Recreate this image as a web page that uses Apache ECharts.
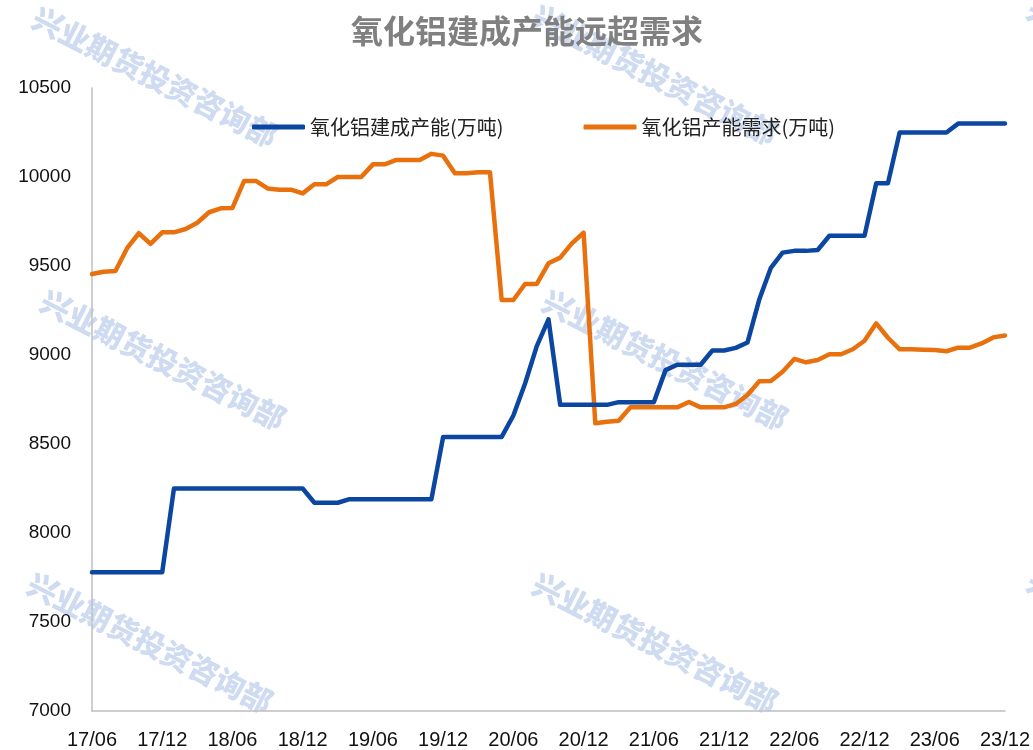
<!DOCTYPE html>
<html lang="zh">
<head>
    <meta charset="UTF-8">
    <title>氧化铝建成产能远超需求</title>
    <script src="https://cdn.jsdelivr.net/npm/echarts@6/dist/echarts.min.js"></script>
    <style>
        html, body { margin: 0; padding: 0; background: #fff; }
        #main { width: 1033px; height: 750px; }
    </style>
</head>
<body>
<div id="main"></div>
<script type="text/javascript">
    // 月份 17/06 - 23/12
    var months = [
        '17/06', '17/07', '17/08', '17/09', '17/10', '17/11', '17/12',
        '18/01', '18/02', '18/03', '18/04', '18/05', '18/06', '18/07', '18/08', '18/09', '18/10', '18/11', '18/12',
        '19/01', '19/02', '19/03', '19/04', '19/05', '19/06', '19/07', '19/08', '19/09', '19/10', '19/11', '19/12',
        '20/01', '20/02', '20/03', '20/04', '20/05', '20/06', '20/07', '20/08', '20/09', '20/10', '20/11', '20/12',
        '21/01', '21/02', '21/03', '21/04', '21/05', '21/06', '21/07', '21/08', '21/09', '21/10', '21/11', '21/12',
        '22/01', '22/02', '22/03', '22/04', '22/05', '22/06', '22/07', '22/08', '22/09', '22/10', '22/11', '22/12',
        '23/01', '23/02', '23/03', '23/04', '23/05', '23/06', '23/07', '23/08', '23/09', '23/10', '23/11', '23/12'
    ];

    // 氧化铝建成产能(万吨)
    var capacity = [
        7780, 7780, 7780, 7780, 7780, 7780, 7780,
        8250, 8250, 8250, 8250, 8250, 8250, 8250, 8250, 8250, 8250, 8250, 8250,
        8170, 8170, 8170, 8190, 8190, 8190, 8190, 8190, 8190, 8190, 8190, 8540,
        8540, 8540, 8540, 8540, 8540, 8660, 8840, 9050, 9200, 8720, 8720, 8720,
        8720, 8720, 8735, 8735, 8735, 8735, 8915, 8945, 8945, 8945, 9025, 9025,
        9040, 9070, 9310, 9490, 9575, 9585, 9585, 9590, 9670, 9670, 9670, 9670,
        9965, 9965, 10250, 10250, 10250, 10250, 10250, 10300, 10300, 10300, 10300, 10300
    ];

    // 氧化铝产能需求(万吨)
    var demand = [
        9455, 9468, 9472, 9600, 9684, 9624, 9689,
        9689, 9708, 9743, 9802, 9824, 9826, 9978, 9978, 9936, 9929, 9929, 9908,
        9959, 9959, 10000, 10000, 10000, 10071, 10071, 10096, 10096, 10096, 10130, 10120,
        10021, 10021, 10027, 10027, 9309, 9309, 9399, 9399, 9515, 9547, 9627, 9687,
        8616, 8625, 8631, 8706, 8706, 8706, 8706, 8706, 8736, 8706, 8706, 8706,
        8725, 8775, 8852, 8854, 8906, 8978, 8959, 8972, 9004, 9004, 9032, 9080,
        9178, 9097, 9032, 9032, 9030, 9028, 9021, 9041, 9041, 9065, 9099, 9110
    ];

    var yTicks = [7000, 7500, 8000, 8500, 9000, 9500, 10000, 10500];

    // 水印
    var wmText = '兴业期货投资咨询部';
    var wmPos = [
        [155, 77], [655, 75], [1150, 68],
        [163, 360], [665, 360], [1160, 355],
        [150, 643], [655, 643], [1150, 640]
    ];

    var myChart = echarts.init(document.getElementById('main'), null, {renderer: 'canvas'});

    var cjk = '"Noto Sans CJK SC", "Microsoft YaHei", sans-serif';
    var num = '"Liberation Sans", Arial, sans-serif';

    var graphics = wmPos.map(function (p) {
        return {
            type: 'text',
            x: p[0],
            y: p[1],
            rotation: -27 * Math.PI / 180,
            z: -10,
            silent: true,
            style: {
                text: wmText,
                fill: '#cfdbf1',
                font: '900 30px ' + cjk,
                align: 'center',
                verticalAlign: 'middle'
            }
        };
    });

    var option = {
        backgroundColor: '#fff',
        animation: false,
        graphic: graphics,
        title: {
            text: '氧化铝建成产能远超需求',
            left: 346,
            top: 10,
            textStyle: {
                color: '#808080',
                fontSize: 32,
                fontWeight: 'bold',
                fontFamily: cjk
            }
        },
        legend: {
            left: 247,
            top: 112,
            itemGap: 80,
            itemWidth: 53,
            itemHeight: 5,
            icon: 'roundRect',
            textStyle: {
                color: '#222',
                fontSize: 20,
                fontFamily: cjk,
                padding: [0, 0, 0, 0]
            },
            data: ['氧化铝建成产能(万吨)', '氧化铝产能需求(万吨)']
        },
        grid: {
            left: 92,
            right: 28,
            top: 88,
            bottom: 39,
            containLabel: false
        },
        xAxis: {
            type: 'category',
            boundaryGap: false,
            data: months,
            axisLine: {lineStyle: {color: '#bfbfbf', width: 1.5}},
            axisTick: {show: false},
            axisLabel: {
                interval: 5,
                margin: 19,
                color: '#111',
                fontSize: 20,
                fontFamily: num
            },
            splitLine: {show: false}
        },
        yAxis: {
            type: 'value',
            min: yTicks[0],
            max: yTicks[yTicks.length - 1],
            interval: 500,
            axisLine: {show: true, lineStyle: {color: '#bfbfbf', width: 1.5}},
            axisTick: {show: false},
            axisLabel: {
                margin: 21,
                color: '#111',
                fontSize: 19,
                fontFamily: num,
                formatter: function (v) { return String(v); }
            },
            splitLine: {show: false}
        },
        series: [
            {
                name: '氧化铝建成产能(万吨)',
                type: 'line',
                data: capacity,
                showSymbol: false,
                symbol: 'none',
                color: '#0b47a1',
                lineStyle: {width: 4.5, color: '#0b47a1', cap: 'round', join: 'round'},
                z: 3
            },
            {
                name: '氧化铝产能需求(万吨)',
                type: 'line',
                data: demand,
                showSymbol: false,
                symbol: 'none',
                color: '#e8710e',
                lineStyle: {width: 4.5, color: '#e8710e', cap: 'round', join: 'round'},
                z: 2
            }
        ]
    };

    myChart.setOption(option);
</script>
</body>
</html>
